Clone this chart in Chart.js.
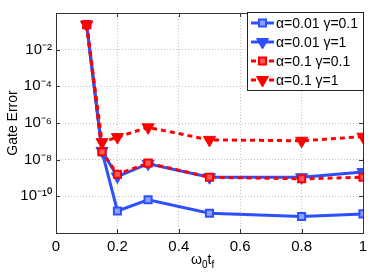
<!DOCTYPE html>
<html lang="en">
<head>
<meta charset="UTF-8">
<title>Gate Error</title>
<style>
  html, body { margin: 0; padding: 0; background: #fff; }
  #wrap { width: 374px; height: 274px; }
</style>
</head>
<body>
<div id="wrap"><canvas id="chart" width="374" height="274"></canvas></div>
<script src="https://cdn.jsdelivr.net/npm/chart.js"></script>
<script>
// data
const times = [0.1, 0.15, 0.2, 0.3, 0.5, 0.8, 1];
const a001g01 = [0.23, 2.7e-8, 1.6e-11, 6.5e-11, 1.2e-11, 8e-12, 1.1e-11];
const a001g1 = [0.23, 3e-8, 1.2e-9, 6e-9, 1.1e-9, 1.1e-9, 2.1e-9];
const a01g01 = [0.23, 2.7e-8, 1.6e-9, 6.5e-9, 1.1e-9, 9e-10, 1.1e-9];
const a01g1 = [0.23, 9e-8, 1.7e-7, 5.8e-7, 1.2e-7, 1.07e-7, 1.8e-7];
const labels = ['α=0.01 γ=0.1', 'α=0.01 γ=1', 'α=0.1 γ=0.1', 'α=0.1 γ=1'];
const xTicks = [0, 0.2, 0.4, 0.6, 0.8, 1];
const yExps = [-12, -10, -8, -6, -4, -2, 0];

const blue = 'rgb(45,80,255)';
const red = 'rgb(255,0,0)';
const FONT = '"Liberation Sans", Arial, sans-serif';
const sup = {'-': '⁻', '0': '⁰', '1': '¹', '2': '²', '4': '⁴', '6': '⁶', '8': '⁸'};

function pts(ys) { return times.map((t, i) => ({x: t, y: ys[i]})); }

const datasets = [
  {label: labels[0], data: pts(a001g01), borderColor: blue, backgroundColor: 'rgba(140,160,255,1)',
   pointStyle: 'rect', pointRadius: 5, pointBorderWidth: 2, order: 3},
  {label: labels[1], data: pts(a001g1), borderColor: blue, backgroundColor: blue,
   pointStyle: 'triangle', pointRotation: 180, pointRadius: 7, pointBorderWidth: 1, order: 2},
  {label: labels[2], data: pts(a01g01), borderColor: red, backgroundColor: 'rgb(255,90,90)', borderDash: [5, 4],
   pointStyle: 'rect', pointRadius: 5, pointBorderWidth: 2, order: 1},
  {label: labels[3], data: pts(a01g1), borderColor: red, backgroundColor: red, borderDash: [5, 4],
   pointStyle: 'triangle', pointRotation: 180, pointRadius: 7, pointBorderWidth: 1, order: 0}
];
datasets.forEach(d => { d.borderWidth = 3; d.tension = 0; d.showLine = true; });

// frame with inward ticks, axis titles and the in-plot legend
const extras = {
  id: 'extras',
  beforeDatasetsDraw(chart) {
    const ctx = chart.ctx;
    const a = chart.chartArea;
    const xs = chart.scales.x, ys = chart.scales.y;
    ctx.save();
    ctx.strokeStyle = '#333';
    ctx.lineWidth = 1;
    ctx.strokeRect(a.left + 0.5, a.top + 0.5, a.right - a.left, a.bottom - a.top);
    ctx.beginPath();
    xTicks.forEach(v => {
      const px = Math.round(xs.getPixelForValue(v)) + 0.5;
      ctx.moveTo(px, a.bottom); ctx.lineTo(px, a.bottom - 4);
      ctx.moveTo(px, a.top); ctx.lineTo(px, a.top + 4);
    });
    yExps.forEach(e => {
      const py = Math.round(ys.getPixelForValue(Math.pow(10, e))) + 0.5;
      ctx.moveTo(a.left, py); ctx.lineTo(a.left + 4, py);
      ctx.moveTo(a.right, py); ctx.lineTo(a.right - 4, py);
    });
    ctx.stroke();
    ctx.restore();
  },
  afterDraw(chart) {
    const ctx = chart.ctx;
    const a = chart.chartArea;
    ctx.save();
    ctx.fillStyle = '#000';
    ctx.font = '14px ' + FONT;
    ctx.save();
    ctx.translate(13, (a.top + a.bottom) / 2);
    ctx.rotate(-Math.PI / 2);
    ctx.textAlign = 'center';
    ctx.textBaseline = 'middle';
    ctx.fillText('Gate Error', 0, 0);
    ctx.restore();

    // x title: omega_0 t_f
    ctx.textBaseline = 'alphabetic';
    ctx.textAlign = 'left';
    let x = 191, y = 264;
    ctx.font = '14px ' + FONT;
    ctx.fillText('ω', x, y); x += ctx.measureText('ω').width;
    ctx.font = '10px ' + FONT;
    ctx.fillText('0', x, y + 4); x += ctx.measureText('0').width;
    ctx.font = '14px ' + FONT;
    ctx.fillText('t', x, y); x += ctx.measureText('t').width;
    ctx.font = '10px ' + FONT;
    ctx.fillText('f', x, y + 4);

    // legend
    const lx = 247, ly = 12, lw = 116, lh = 78;
    ctx.fillStyle = '#fff';
    ctx.fillRect(lx, ly, lw, lh);
    ctx.strokeStyle = '#222';
    ctx.lineWidth = 1;
    ctx.strokeRect(lx + 0.5, ly + 0.5, lw, lh);
    const rows = [23, 42, 61, 80];
    chart.data.datasets.forEach((d, i) => {
      const ry = rows[i];
      ctx.save();
      ctx.strokeStyle = d.borderColor;
      ctx.lineWidth = 3;
      ctx.setLineDash(d.borderDash || []);
      ctx.beginPath();
      ctx.moveTo(251, ry); ctx.lineTo(274, ry);
      ctx.stroke();
      ctx.restore();
      ctx.strokeStyle = d.borderColor;
      ctx.fillStyle = d.backgroundColor;
      ctx.lineWidth = d.pointBorderWidth;
      Chart.helpers.drawPoint(ctx, {pointStyle: d.pointStyle, rotation: d.pointRotation || 0,
        radius: d.pointRadius, borderWidth: d.pointBorderWidth}, 262.5, ry);
      ctx.fillStyle = '#000';
      ctx.font = '14px ' + FONT;
      ctx.textBaseline = 'middle';
      ctx.textAlign = 'left';
      ctx.fillText(d.label, 276, ry + 1);
    });
    ctx.restore();
  }
};

new Chart(document.getElementById('chart'), {
  type: 'scatter',
  data: {datasets: datasets},
  options: {
    responsive: false,
    animation: false,
    layout: {padding: {left: 0, right: 11, top: 8, bottom: 0}},
    plugins: {legend: {display: false}, tooltip: {enabled: false}},
    scales: {
      x: {
        type: 'linear', min: 0, max: 1,
        afterBuildTicks: s => { s.ticks = xTicks.map(v => ({value: v})); },
        afterFit: s => { s.height = 41; },
        border: {display: false, dash: [1, 2]},
        grid: {color: '#c4c4c4', lineWidth: 1, drawTicks: false},
        ticks: {color: '#000', font: {family: FONT, size: 15}, padding: 5,
                callback: v => String(v)}
      },
      y: {
        type: 'logarithmic', min: 1e-12, max: 1,
        afterBuildTicks: s => { s.ticks = yExps.map(e => ({value: Math.pow(10, e)})); },
        afterFit: s => { s.width = 56; },
        border: {display: false, dash: [1, 2]},
        grid: {color: '#c4c4c4', lineWidth: 1, drawTicks: false},
        ticks: {color: '#000', font: {family: FONT, size: 15}, padding: 4,
                callback: function (v) {
                  const e = Math.round(Math.log10(v));
                  if (e === 0 || e === -12) return '';
                  return '10' + String(e).split('').map(c => sup[c]).join('');
                }}
      }
    }
  },
  plugins: [extras]
});
</script>
</body>
</html>
